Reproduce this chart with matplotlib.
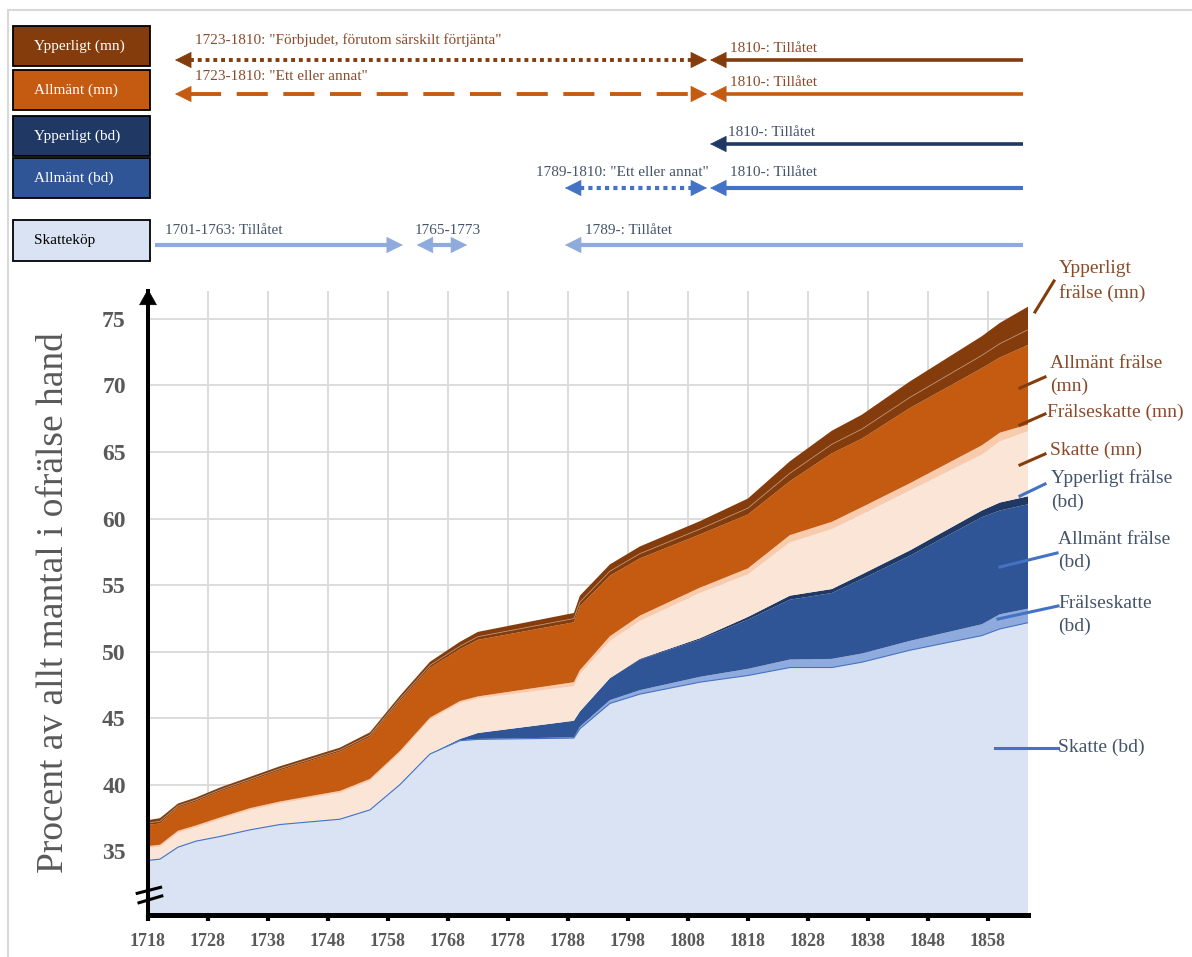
import numpy as np
import matplotlib
matplotlib.use('Agg')
import matplotlib.pyplot as plt
from matplotlib import transforms
from matplotlib.patches import Rectangle
from matplotlib.lines import Line2D

plt.rcParams['font.family'] = ['Liberation Serif', 'DejaVu Serif']

W, H = 1192, 957

# ---- data (percent of all mantal, stacked layers) ----
years = [1718, 1720, 1723, 1726, 1730, 1735, 1740, 1750, 1755, 1760, 1765, 1770, 1773,
         1789, 1790, 1795, 1800, 1810, 1818, 1825, 1832, 1837, 1845, 1857, 1860, 1865]
skatte_bd = [34.3, 34.4, 35.3, 35.75, 36.1, 36.6, 37.0, 37.4, 38.1, 40.0, 42.3, 43.3, 43.4,
             43.5, 44.2, 46.1, 46.8, 47.7, 48.2, 48.8, 48.8, 49.2, 50.1, 51.2, 51.7, 52.2]
fralseskatte_bd = [0.03, 0.03, 0.03, 0.03, 0.03, 0.03, 0.03, 0.03, 0.03, 0.03, 0.03, 0.03, 0.03,
                   0.05, 0.15, 0.25, 0.3, 0.4, 0.5, 0.6, 0.65, 0.65, 0.7, 0.85, 1.1, 1.05]
allmant_bd = [0, 0, 0, 0, 0, 0, 0, 0, 0, 0, 0, 0.1, 0.45,
              1.25, 1.15, 1.65, 2.3, 2.8, 3.7, 4.5, 4.95, 5.6, 6.4, 8.05, 7.8, 7.85]
ypperligt_bd = [0, 0, 0, 0, 0, 0, 0, 0, 0, 0, 0, 0, 0,
                0, 0, 0, 0.05, 0.1, 0.2, 0.3, 0.3, 0.35, 0.4, 0.5, 0.6, 0.6]
skatte_mn = [0.9, 0.9, 1.05, 1.0, 1.25, 1.45, 1.55, 1.95, 2.15, 2.35, 2.55, 2.7, 2.6,
             2.6, 2.8, 2.8, 2.85, 3.4, 3.2, 4.0, 4.5, 4.5, 4.5, 4.2, 4.6, 4.9]
fralseskatte_mn = [0.15, 0.15, 0.15, 0.15, 0.15, 0.15, 0.15, 0.15, 0.15, 0.15, 0.15, 0.15, 0.15,
                   0.3, 0.3, 0.35, 0.4, 0.4, 0.45, 0.55, 0.55, 0.55, 0.55, 0.7, 0.65, 0.5]
allmant_mn = [1.6, 1.6, 1.75, 1.8, 1.95, 2.05, 2.35, 2.95, 3.15, 3.75, 3.75, 3.9, 4.25,
              4.5, 4.8, 4.55, 4.3, 4.0, 4.05, 4.05, 5.15, 5.15, 5.65, 5.8, 5.65, 6.0]
ypperligt_mn_a = [0.14, 0.16, 0.12, 0.12, 0.12, 0.12, 0.12, 0.12, 0.14, 0.16, 0.18, 0.22, 0.24,
                  0.28, 0.32, 0.34, 0.36, 0.4, 0.48, 0.6, 0.68, 0.72, 0.8, 0.96, 1.04, 1.16]
ypperligt_mn_b = [0.21, 0.24, 0.18, 0.18, 0.18, 0.18, 0.18, 0.18, 0.21, 0.24, 0.27, 0.33, 0.36,
                  0.42, 0.48, 0.51, 0.54, 0.6, 0.72, 0.9, 1.02, 1.08, 1.2, 1.44, 1.56, 1.74]

layers = [skatte_bd, fralseskatte_bd, allmant_bd, ypperligt_bd,
          skatte_mn, fralseskatte_mn, allmant_mn, ypperligt_mn_a, ypperligt_mn_b]
colors = ['#DAE3F3', '#8FAADC', '#2F5597', '#203864',
          '#FBE5D6', '#F8CBAD', '#C55A11', '#843C0C', '#843C0C']

xticks = list(range(1718, 1859, 10))
yticks = [35, 40, 45, 50, 55, 60, 65, 70, 75]

# permission periods shown above the chart (years)
periods_mn_ypp = (1722.5, 1811.2, 1863.8)
periods_mn_allm = (1722.5, 1811.2, 1863.8)
periods_bd_allm = (1787.5, 1811.2, 1863.8)
skattekop = [(1719.2, 1760.5), (1762.8, 1771.2), (1787.5, 1863.8)]

GRAY = '#595959'
MN_TXT = '#8A4B2A'
BD_TXT = '#44546A'


def fx(px):
    return px / W


def fy(py):
    return 1 - py / H


fig = plt.figure(figsize=(W / 100, H / 100), dpi=100)
ax = fig.add_axes([fx(148), fy(915), fx(1028) - fx(148), fy(291) - fy(915)])

ax.stackplot(years, *layers, colors=colors, lw=0)
cum = np.cumsum(np.array(layers), axis=0)
ax.plot(years, cum[0], color='#4472C4', lw=0.8)
ax.plot(years, cum[7], color='#B98B6B', lw=0.6)

ax.set_xlim(1718, 1864.7)
ax.set_ylim(30.2, 77.1)
ax.set_xticks(xticks)
ax.set_yticks(yticks)
ax.set_xticklabels([str(t) for t in xticks], fontsize=13, fontweight='bold', color=GRAY)
ax.set_yticklabels([str(t) for t in yticks], fontsize=17, fontweight='bold', color=GRAY)
ax.tick_params(axis='x', length=4, width=3, color='black', pad=9)
ax.tick_params(axis='y', length=0, pad=16)
for v in xticks[1:]:
    ax.axvline(v, color='#D9D9D9', lw=1.3, zorder=0)
for v in yticks:
    ax.axhline(v, color='#D9D9D9', lw=1.3, zorder=0)
ax.set_axisbelow(True)

for s in ['top', 'right']:
    ax.spines[s].set_visible(False)
ax.spines['left'].set_linewidth(2.9)
ax.spines['bottom'].set_linewidth(3.6)
ax.spines['left'].set_zorder(5)
ax.spines['bottom'].set_zorder(5)

# arrow head on the y axis
ax.annotate('', xy=(1718, 77.25), xytext=(1718, 76.0),
            arrowprops=dict(arrowstyle='-|>,head_length=0.9,head_width=0.5', mutation_scale=12,
                            lw=0.5, color='black', shrinkA=0, shrinkB=0),
            annotation_clip=False, zorder=6)
# axis break marks
ax.plot([1716.2, 1720.1], [31.83, 32.28], color='black', lw=2.2, clip_on=False, zorder=6)
ax.plot([1716.5, 1720.3], [31.12, 31.63], color='black', lw=2.2, clip_on=False, zorder=6)

ax.set_ylabel('Procent av allt mantal i ofrälse hand', fontsize=27, color=GRAY)
ax.yaxis.set_label_coords(-0.088, 0.5)

# outer frame
fig.add_artist(Rectangle((fx(8), -0.1), 1.2, fy(10) + 0.1, transform=fig.transFigure,
                         fill=False, ec='#D9D9D9', lw=1.5))

# category boxes
boxes = [('Ypperligt (mn)', 26, 66, '#843C0C', 'white'),
         ('Allmänt (mn)', 70, 110, '#C55A11', 'white'),
         ('Ypperligt (bd)', 116, 156, '#203864', 'white'),
         ('Allmänt (bd)', 158, 198, '#2F5597', 'white'),
         ('Skatteköp', 220, 261, '#DAE3F3', 'black')]
for label, top, bot, fc, tc in boxes:
    fig.add_artist(Rectangle((fx(13), fy(bot)), fx(150) - fx(13), fy(top) - fy(bot),
                             transform=fig.transFigure, fc=fc, ec='black', lw=1.3))
    fig.text(fx(34), fy((top + bot) / 2), label, color=tc, fontsize=11, va='center', ha='left')

blend = transforms.blended_transform_factory(ax.transData, fig.transFigure)
HEAD = 2.5


def head(tip, direction, ypx, color):
    ax.annotate('', xy=(tip, fy(ypx)), xytext=(tip - direction * HEAD, fy(ypx)),
                xycoords=blend, textcoords=blend, annotation_clip=False,
                arrowprops=dict(arrowstyle='-|>,head_length=1.0,head_width=0.5',
                                mutation_scale=11, lw=0.5, color=color,
                                shrinkA=0, shrinkB=0))


def shaft(x0, x1, ypx, color, lw, ls='-'):
    ax.plot([x0, x1], [fy(ypx), fy(ypx)], transform=blend, color=color, lw=lw, ls=ls,
            clip_on=False, solid_capstyle='butt', dash_capstyle='butt')


def txt(x, ypx, s, color, ha='left'):
    ax.text(x, fy(ypx), s, transform=blend, color=color, fontsize=11, ha=ha, va='center')


# row 1: Ypperligt (mn)
a, b, c = periods_mn_ypp
shaft(a + HEAD, b - HEAD, 60, '#843C0C', 2.8, (0, (1, 1)))
head(a, -1, 60, '#843C0C')
head(b, 1, 60, '#843C0C')
shaft(c, b + 0.5 + HEAD, 60, '#843C0C', 2.6)
head(b + 0.5, -1, 60, '#843C0C')
txt(1725.8, 40, '1723-1810: "Förbjudet, förutom särskilt förtjänta"', MN_TXT)
txt(1815.0, 48, '1810-: Tillåtet', MN_TXT)

# row 2: Allmänt (mn)
a, b, c = periods_mn_allm
shaft(a + HEAD, b - HEAD, 94, '#C55A11', 2.8, (0, (8, 4)))
head(a, -1, 94, '#C55A11')
head(b, 1, 94, '#C55A11')
shaft(c, b + 0.5 + HEAD, 94, '#C55A11', 2.6)
head(b + 0.5, -1, 94, '#C55A11')
txt(1725.8, 77, '1723-1810: "Ett eller annat"', MN_TXT)
txt(1815.0, 83, '1810-: Tillåtet', MN_TXT)

# row 3: Ypperligt (bd)
shaft(1863.8, 1811.7 + HEAD, 144, '#203864', 2.6)
head(1811.7, -1, 144, '#203864')
txt(1814.7, 132, '1810-: Tillåtet', BD_TXT)

# row 4: Allmänt (bd)
a, b, c = periods_bd_allm
shaft(a + HEAD, b - HEAD, 188, '#4472C4', 3.0, (0, (1, 1)))
head(a, -1, 188, '#4472C4')
head(b, 1, 188, '#4472C4')
shaft(c, b + 0.5 + HEAD, 188, '#4472C4', 3.0)
head(b + 0.5, -1, 188, '#4472C4')
txt(1811.4, 173, '1789-1810: "Ett eller annat"', BD_TXT, ha='right')
txt(1815.0, 173, '1810-: Tillåtet', BD_TXT)

# row 5: Skatteköp
(s0, s1), (d0, d1), (r0, r1) = skattekop
shaft(s0, s1 - HEAD, 245, '#8FAADC', 3.0)
head(s1, 1, 245, '#8FAADC')
shaft(d0 + HEAD, d1 - HEAD, 245, '#8FAADC', 3.0)
head(d0, -1, 245, '#8FAADC')
head(d1, 1, 245, '#8FAADC')
shaft(r1, r0 + HEAD, 245, '#8FAADC', 3.0)
head(r0, -1, 245, '#8FAADC')
txt(1720.8, 231, '1701-1763: Tillåtet', BD_TXT)
txt(1762.5, 230, '1765-1773', BD_TXT)
txt(1790.8, 230, '1789-: Tillåtet', BD_TXT)

# series labels on the right
labels = [('Ypperligt\nfrälse (mn)', 1059, 281, MN_TXT, (1035, 312, 1054, 281), '#843C0C'),
          ('Allmänt frälse\n(mn)', 1050, 375, MN_TXT, (1020, 388, 1045, 377), '#843C0C'),
          ('Frälseskatte (mn)', 1047, 412, MN_TXT, (1020, 425, 1045, 414), '#843C0C'),
          ('Skatte (mn)', 1050, 450, MN_TXT, (1020, 465, 1045, 454), '#843C0C'),
          ('Ypperligt frälse\n(bd)', 1051, 490, BD_TXT, (1020, 496, 1045, 484), '#4472C4'),
          ('Allmänt frälse\n(bd)', 1058, 551, BD_TXT, (1000, 567, 1057, 553), '#4472C4'),
          ('Frälseskatte\n(bd)', 1058, 615, BD_TXT, (998, 619, 1058, 606), '#4472C4'),
          ('Skatte (bd)', 1058, 747, BD_TXT, (995, 748, 1058, 748), '#4472C4')]
for s, x, y, tc, (x0, y0, x1, y1), lc in labels:
    fig.text(fx(x), fy(y), s, color=tc, fontsize=14, ha='left', va='center', linespacing=1.45)
    fig.add_artist(Line2D([fx(x0), fx(x1)], [fy(y0), fy(y1)], transform=fig.transFigure,
                          color=lc, lw=2.2))

fig.savefig('out.png', dpi=100)
